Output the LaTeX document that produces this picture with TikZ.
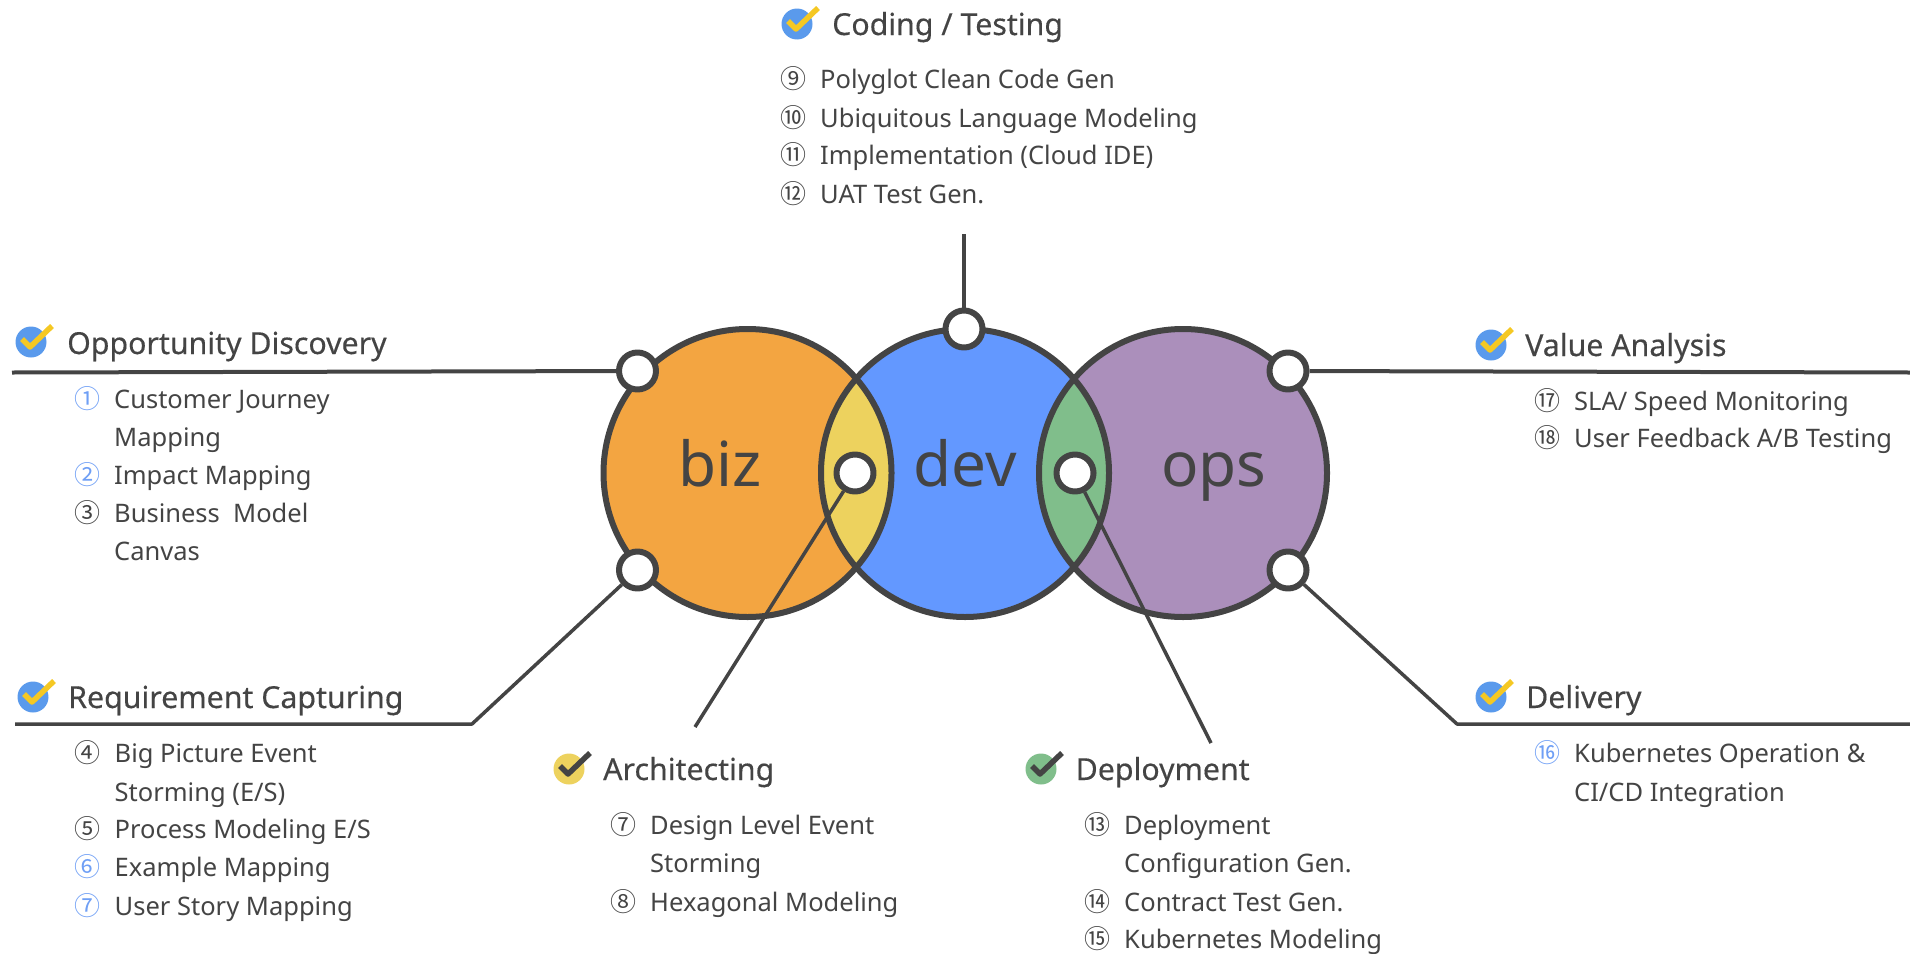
\documentclass[tikz,border=0pt]{standalone}
\usepackage{fontspec}
\setmainfont{Noto Sans}
\newfontfamily\numfont{Noto Sans CJK KR}
\newfontfamily\headfont[FakeBold=0.35]{Noto Sans}
\definecolor{ink}{HTML}{444444}
\definecolor{bizc}{HTML}{F3A541}
\definecolor{devc}{HTML}{6398FF}
\definecolor{opsc}{HTML}{AB8FBB}
\definecolor{archc}{HTML}{EDD25E}
\definecolor{depc}{HTML}{80BE8B}
\definecolor{iconblue}{HTML}{5A9AEC}
\definecolor{iconyellow}{HTML}{F5C823}
\definecolor{numblue}{HTML}{6F9FF5}
\tikzset{
  hub/.style={circle,draw=ink,fill=white,line width=6pt,minimum size=37pt,inner sep=0pt},
  wire/.style={draw=ink,line width=4pt},
  thinwire/.style={draw=ink,line width=3.5pt},
  title/.style={anchor=base west,inner sep=0pt,text=ink,font=\headfont\fontsize{30.3}{30.3}\selectfont},
  item/.style={anchor=base west,inner sep=0pt,text=ink,font=\fontsize{25.5}{25.5}\selectfont},
  num/.style={anchor=base,inner sep=0pt,font=\numfont\fontsize{26}{26}\selectfont},
  word/.style={anchor=base,inner sep=0pt,text=ink,font=\fontsize{62}{62}\selectfont},
  badge/.style={circle,minimum size=31pt,inner sep=0pt,fill=#1}
}
\begin{document}
\begin{tikzpicture}[x=1pt,y=-1pt,line join=round]
    \useasboundingbox (0,0) rectangle (1910,953);
    \path
    (747.5,473) coordinate (B)
    (965,473) coordinate (D)
    (1183,473) coordinate (O);
    % discs and their overlaps
    \fill[bizc] (B) circle (144);
    \fill[opsc] (O) circle (144);
    \fill[devc] (D) circle (144);
    \begin{scope}
        \clip (D) circle (144);
        \fill[archc] (B) circle (144);
        \fill[depc] (O) circle (144);
    \end{scope}
    \foreach \p in {B,D,O}\draw[ink,line width=6pt] (\p) circle (144);
    \node[word] (bizword) at (720,486) {biz};
    \node[word] (devword) at (965,486) {dev};
    \node[word] (opsword) at (1214,486) {ops};
    % hubs
    \foreach \n/\x/\y in {opp/637.5/371,req/637.5/570,cod/964/329,arch/855/473,dep/1075/473,val/1288/371,del/1288/570}
    \node[hub] (hub\n) at (\x,\y) {};
    % free ends
    \path
    (12,372.5) coordinate (oppend)
    (15,724) coordinate (reqend)
    (472,724) coordinate (reqbend)
    (964,234) coordinate (codend)
    (695,727) coordinate (archend)
    (1211,743) coordinate (depend)
    (1910,372.5) coordinate (valend)
    (1910,724) coordinate (delend)
    (1457,724) coordinate (delbend);
    \draw[wire] (hubopp)--(oppend);
    \draw[wire] (hubcod)--(codend);
    \draw[wire] (hubval)--(valend);
    \draw[thinwire] (hubreq)--(reqbend)--(reqend);
    \draw[thinwire] (hubdel)--(delbend)--(delend);
    \draw[thinwire] (hubarch)--(archend);
    \draw[thinwire] (hubdep)--(depend);
    % check badges
    \foreach \n/\x/\y/\c/\k in {opp/31/342/iconblue/iconyellow,req/33/697/iconblue/iconyellow,cod/797/24/iconblue/iconyellow,val/1491/345/iconblue/iconyellow,del/1491/697/iconblue/iconyellow,arch/569/769/archc/ink,dep/1041/769/depc/ink}{
        \node[badge=\c] (badge\n) at (\x,\y) {};
        \draw[\k,line width=5.5pt] (badge\n.center)+(-9,-3)--+(-1,5)--+(21,-16);
    }
    % headings
    \foreach \n/\x/\y/\s in {opp/67/354/Opportunity Discovery,req/68/708/Requirement Capturing,cod/832/35/{Coding / Testing},arch/603/780/Architecting,dep/1075.5/780/Deployment,val/1525/356/Value Analysis,del/1526/708/Delivery}
    \node[title] (title\n) at (\x,\y) {\s};
    % numbered rows
    \foreach \r/\x/\y/\c/\m/\s in {
        1/114/408/numblue/①/Customer Journey,
        2/114/484/numblue/②/Impact Mapping,
        3/114/522/ink/③/{Business\ \ Model},
        4/114.5/762/ink/④/Big Picture Event,
        5/114.5/838/ink/⑤/{Process Modeling E/S},
        6/114.5/876/numblue/⑥/Example Mapping,
        7/114.5/915/numblue/⑦/User Story Mapping,
        8/650/834/ink/⑦/Design Level Event,
        9/650/911/ink/⑧/Hexagonal Modeling,
        10/820/88/ink/⑨/Polyglot Clean Code Gen,
        11/820/127/ink/⑩/Ubiquitous Language Modeling,
        12/820/164/ink/⑪/Implementation (Cloud IDE),
        13/820/203/ink/⑫/UAT Test Gen.,
        14/1124/834/ink/⑬/Deployment,
        15/1124/911/ink/⑭/Contract Test Gen.,
        16/1124/948/ink/⑮/Kubernetes Modeling,
        17/1574/410/ink/⑰/{SLA/ Speed Monitoring},
        18/1574/447/ink/⑱/{User Feedback A/B Testing},
        19/1574/762/numblue/⑯/Kubernetes Operation \&
    }{
        \node[item] (row\r) at (\x,\y) {\s};
        \node[num,text=\c] (mark\r) at (\x-27,\y) {\m};
    }
    % wrapped lines
    \foreach \r/\x/\y/\s in {1/114/446/Mapping,3/114/560/Canvas,4/114.5/801/{Storming (E/S)},8/650/872/Storming,14/1124/872/Configuration Gen.,19/1574/801/{CI/CD Integration}}
    \node[item] (wrap\r) at (\x,\y) {\s};
\end{tikzpicture}
\end{document}
